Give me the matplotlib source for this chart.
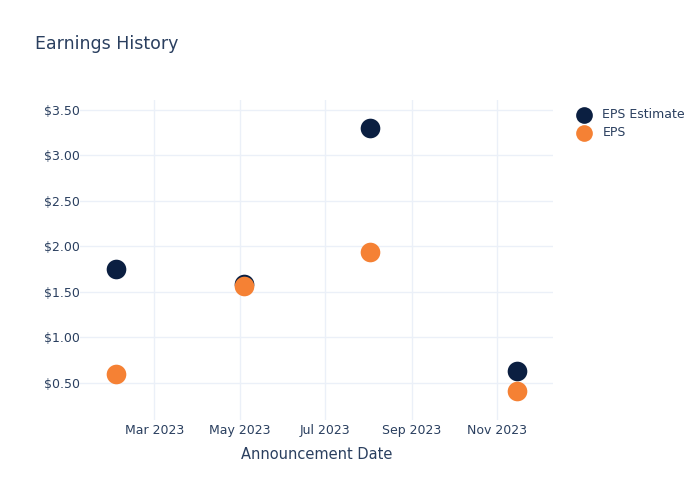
import matplotlib.pyplot as plt
import matplotlib.dates as mdates
import numpy as np
import pandas as pd

# data
dates = pd.to_datetime(["2023-02-02", "2023-05-04", "2023-08-02", "2023-11-15"])
eps_estimate = [1.75, 1.59, 3.30, 0.63]
eps_actual = [0.60, 1.56, 1.94, 0.41]

TEXT = "#2a3f5f"
GRID = "#ebf0f8"
NAVY = "#0b1f41"
ORANGE = "#f58134"

fig = plt.figure(figsize=(7, 5), dpi=100)
ax = fig.add_axes([80 / 700, 0.16, (553 - 80) / 700, 0.64])

ax.scatter(dates, eps_estimate, s=200, color=NAVY, label="EPS Estimate", zorder=3, linewidths=0)
ax.scatter(dates, eps_actual, s=200, color=ORANGE, label="EPS", zorder=4, linewidths=0)

ax.set_xlim(pd.Timestamp("2023-01-07"), pd.Timestamp("2023-12-11"))
ax.set_ylim(0.09, 3.61)

ax.xaxis.set_major_locator(mdates.MonthLocator(bymonth=[3, 5, 7, 9, 11]))
ax.xaxis.set_major_formatter(mdates.DateFormatter("%b %Y"))
ax.set_yticks(np.arange(0.5, 3.51, 0.5))
ax.yaxis.set_major_formatter(plt.FuncFormatter(lambda v, p: f"${v:.2f}"))

for s in ax.spines.values():
    s.set_visible(False)
ax.grid(True, color=GRID, linewidth=1)
ax.set_axisbelow(True)
ax.tick_params(axis="x", length=0, labelsize=9, colors=TEXT, pad=3)
ax.tick_params(axis="y", length=0, labelsize=9, colors=TEXT, pad=0)

ax.set_xlabel("Announcement Date", fontsize=10.5, color=TEXT, labelpad=7)

fig.text(35 / 700, 1 - 44 / 500, "Earnings History", fontsize=12.5, color=TEXT, va="center", ha="left")

fig.legend(loc="upper left", bbox_to_anchor=(560 / 700, 1 - 97 / 500), frameon=False,
           fontsize=9, labelcolor=TEXT, handletextpad=0.5, labelspacing=0.4, markerscale=0.85)

fig.savefig("out.png", dpi=100)
